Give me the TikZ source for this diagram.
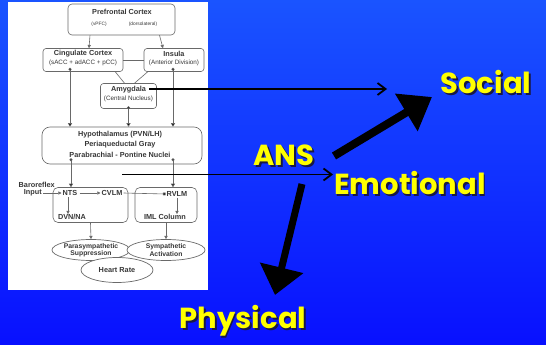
\documentclass[tikz,border=0pt]{standalone}
\usepackage{fontspec}
\setmainfont{Liberation Sans}
\newfontfamily\labelfont{Poppins}
\usetikzlibrary{arrows.meta,shapes.geometric,calc}

\definecolor{bgtop}{RGB}{26,84,255}
\definecolor{bgmid}{RGB}{38,160,255}
\definecolor{bgbot}{RGB}{8,16,255}
\definecolor{labelyellow}{RGB}{255,255,0}
\definecolor{labelshade}{RGB}{25,25,70}
\definecolor{chartline}{RGB}{105,105,105}
\definecolor{charttext}{RGB}{55,55,55}

% yellow word with a dark drop shadow behind it
\newcommand\shadowed[1]{\makebox[0pt][l]{\hspace{1.6pt}\raisebox{-1.6pt}{\color{labelshade}#1}}#1}

\tikzset{
  chartbox/.style={draw=chartline, line width=0.6pt, fill=white, rounded corners=3pt, inner sep=0pt},
  chartoval/.style={draw=chartline, line width=0.7pt, fill=white, ellipse, inner sep=0pt},
  charttxt/.style={text=charttext, font=\fontsize{7.3}{8}\selectfont\bfseries, align=center, inner sep=0pt},
  subtxt/.style={font=\fontsize{6.3}{7}\selectfont},
  tinytxt/.style={font=\fontsize{4.8}{5.8}\selectfont},
  ovaltxt/.style={font=\fontsize{6.8}{7.2}\selectfont\bfseries},
  flow/.style={draw=chartline, line width=0.6pt, -{Triangle[length=3.2pt,width=3.2pt]}},
  dotflow/.style={draw=chartline, line width=0.6pt, {Circle[length=3pt,fill=black]}-{Triangle[length=3.5pt,width=4pt,fill=black]}},
  plainlink/.style={draw=chartline, line width=0.6pt},
  bigword/.style={text=labelyellow, font=\labelfont\bfseries\fontsize{29}{30}\selectfont, inner sep=0pt},
  thinarrow/.style={draw=black, line width=1.8pt, -{Straight Barb[length=8pt,width=12pt]}},
  fatarrow/.style={draw=black, line width=#1},
}

\begin{document}
\begin{tikzpicture}[x=1pt,y=-1pt]
\useasboundingbox (0,0) rectangle (546,345);
% background
\shade[top color=bgtop, middle color=bgmid, bottom color=bgbot] (0,0) rectangle (546,345);
% white panel of the flow chart
\fill[white] (8,2) rectangle (208,290);

% ---- cortical level
\node[chartbox, rounded corners=4pt, minimum width=107pt, minimum height=31pt] (pfc) at (121.5,19.5) {};
\node[charttxt] (pfcT) at (122,12) {Prefrontal Cortex};
\node[charttxt, tinytxt] (pfcV) at (99,24) {(vPFC)};
\node[charttxt, tinytxt] (pfcD) at (143,24) {(dorsolateral)};

\node[chartbox, minimum width=80pt, minimum height=23pt] (cing) at (83,60) {};
\node[charttxt] (cingT) at (83,54) {Cingulate Cortex};
\node[charttxt, subtxt] (cingS) at (83,63) {(sACC + adACC + pCC)};

\node[chartbox, minimum width=60pt, minimum height=23pt] (insula) at (174,60) {};
\node[charttxt] (insT) at (174,54) {Insula};
\node[charttxt, subtxt] (insS) at (174,63) {(Anterior Division)};

\node[chartbox, minimum width=56pt, minimum height=25pt] (amyg) at (128.5,96) {};
\node[charttxt] (amyT) at (128.5,90) {Amygdala};
\node[charttxt, subtxt] (amyS) at (128.5,99) {(Central Nucleus)};

% ---- hypothalamus / brainstem
\node[chartbox, rounded corners=8pt, minimum width=160pt, minimum height=37pt] (hypo) at (122,145.5) {};
\node[charttxt] (hyT) at (120,135) {Hypothalamus (PVN/LH)};
\node[charttxt] (hyP) at (120,145) {Periaqueductal Gray};
\node[charttxt] (hyB) at (120,155) {Parabrachial - Pontine Nuclei};

% ---- medulla
\node[chartbox, rounded corners=5pt, minimum width=75pt, minimum height=35pt] (lmed) at (90.5,205) {};
\node[chartbox, rounded corners=5pt, minimum width=62pt, minimum height=35pt] (rmed) at (166,205) {};
\node[charttxt, anchor=east] (baro) at (55,184.5) {Baroreflex};
\node[charttxt, anchor=east] (input) at (42,193) {Input};
\node[charttxt] (nts) at (70,193) {NTS};
\node[charttxt] (cvlm) at (112,193) {CVLM};
\node[charttxt] (rvlm) at (177,194) {RVLM};
\node[charttxt] (dvn) at (72,217) {DVN/NA};
\node[charttxt] (iml) at (165,217) {IML Column};

% ---- output level
\node[chartoval, minimum width=78pt, minimum height=21pt] (para) at (91,250) {};
\node[chartoval, minimum width=78pt, minimum height=21pt] (symp) at (166,250) {};
\node[charttxt, ovaltxt] (paraT) at (91,250) {Parasympathetic\\Suppression};
\node[charttxt, ovaltxt] (sympT) at (166,250) {Sympathetic\\Activation};
\node[chartoval, minimum width=72pt, minimum height=25pt] (heart) at (117,270) {};
\node[charttxt] (heartT) at (117,270) {Heart Rate};

% ---- chart connectors
\draw[flow] ([xshift=-31.5pt]pfc.south) -- ([xshift=6pt]cing.north);
\draw[flow] ([xshift=38pt]pfc.south) -- ([xshift=-11pt]insula.north);
\draw[plainlink] (cing.east) -- (insula.west);
\draw[plainlink] ([xshift=-8pt]cing.south east) -- ([xshift=-4pt]amyg.north);
\draw[plainlink] ([xshift=4pt]insula.south west) -- ([xshift=6pt]amyg.north);
\draw[dotflow] ([xshift=-13pt,yshift=4pt]cing.south) -- ([xshift=-13pt]cing.south |- hypo.north);
\draw[dotflow] ([yshift=2.5pt]amyg.south) -- (amyg.south |- hypo.north);
\draw[dotflow] ([xshift=-1pt,yshift=4pt]insula.south) -- ([xshift=-1pt]insula.south |- hypo.north);
\draw[dotflow] ([xshift=-51pt,yshift=6pt]hypo.south) -- ([xshift=-51pt]hypo.south |- lmed.north);
\draw[dotflow] ([xshift=51pt,yshift=6pt]hypo.south) -- ([xshift=51pt]hypo.south |- rmed.north);
\draw[flow] ([xshift=1pt]input.east) -- ([xshift=-1pt]nts.west);
\draw[flow] ([xshift=2pt]nts.east) -- ([xshift=-1pt]cvlm.west);
\draw[plainlink, -{Square[length=2.6pt,width=2.6pt,fill=black]}] ([xshift=1pt]cvlm.east) -- ([xshift=-1pt]rvlm.west);
\draw[flow] ([xshift=-2pt,yshift=-1pt]nts.south) -- ([xshift=-2pt]nts.south |- dvn.north);
\draw[flow] ([yshift=-1pt]rvlm.south) -- (rvlm.south |- iml.north);
\draw[flow] (lmed.south) -- (para.north);
\draw[flow] (rmed.south) -- (symp.north);

% ---- big labels
\node[bigword] (ans) at (284,156) {\shadowed{ANS}};
\node[bigword] (emot) at (410,184) {\shadowed{Emotional}};
\node[bigword] (social) at (486,83) {\shadowed{Social}};
\node[bigword] (phys) at (243,322) {\shadowed{Physical}};

% ---- arrows out of the chart and from the ANS
\coordinate (amygOut) at (149,89);
\coordinate (amygEnd) at (387,89);
\coordinate (hypoOut) at (122,174.5);
\coordinate (emotEnd) at (333,174.5);
\draw[thinarrow] (amygOut) -- (amygEnd);
\draw[thinarrow] (hypoOut) -- (emotEnd);

\coordinate (socialFrom) at (334,156);
\coordinate (socialTip) at (432,97);
\coordinate (physFrom) at (302,184);
\coordinate (physTip) at (275,295);
\draw[fatarrow=8pt, -{Triangle[length=30pt,width=42pt]}] (socialFrom) -- (socialTip);
\draw[fatarrow=7pt, -{Triangle[length=28pt,width=43pt]}] (physFrom) -- (physTip);
\end{tikzpicture}
\end{document}
